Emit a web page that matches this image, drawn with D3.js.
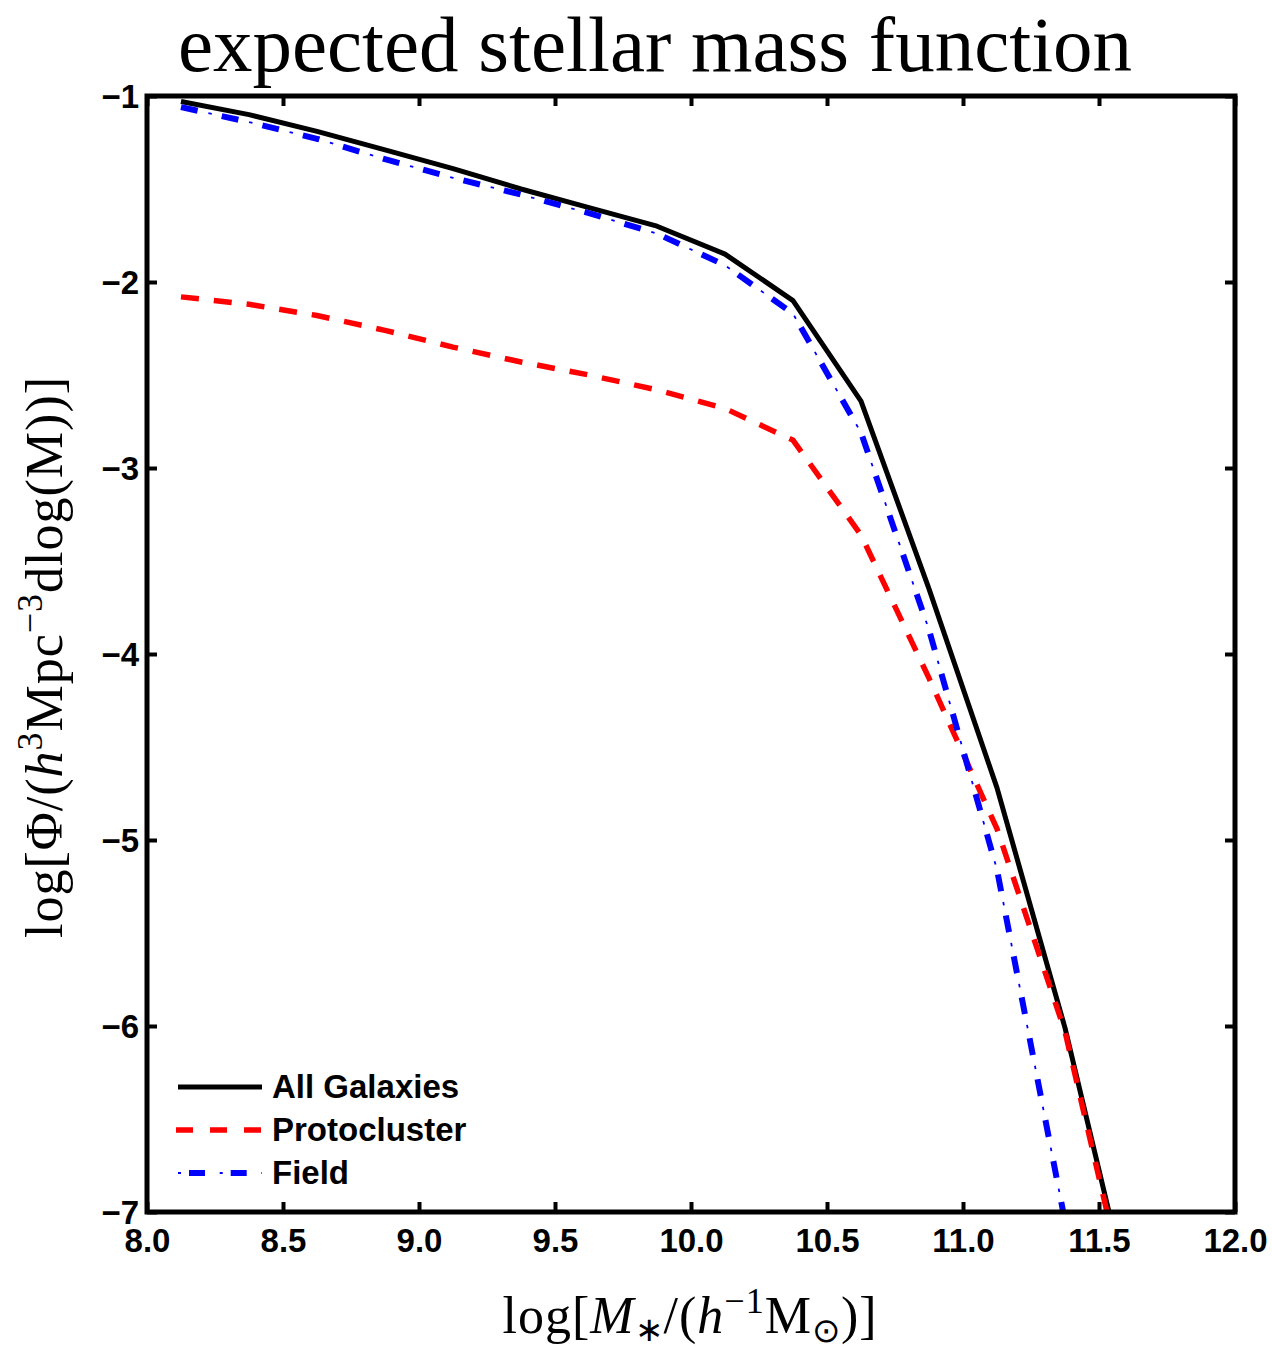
<!DOCTYPE html>
<html>
<head>
<meta charset="utf-8">
<script src="https://cdn.jsdelivr.net/npm/d3@7"></script>
<style>
  body { margin: 0; background: #fff; }
  svg { display: block; }
</style>
</head>
<body>
<svg width="1272" height="1350"></svg>
<script>
// log stellar mass bin centres
var massBins = [8.125, 8.375, 8.625, 8.875, 9.125, 9.375, 9.625, 9.875,
                10.125, 10.375, 10.625, 10.875, 11.125, 11.375, 11.625];
// log Phi for each population
var allGalaxies  = [-1.03, -1.10, -1.19, -1.29, -1.39, -1.50, -1.60, -1.70,
                    -1.85, -2.10, -2.64, -3.65, -4.72, -6.01, -7.54];
var protocluster = [-2.08, -2.12, -2.18, -2.26, -2.35, -2.43, -2.50, -2.58,
                    -2.68, -2.85, -3.36, -4.13, -4.94, -6.03, -7.60];
var field        = [-1.06, -1.14, -1.23, -1.34, -1.44, -1.53, -1.63, -1.74,
                    -1.91, -2.17, -2.81, -3.87, -5.16, -7.05, null];

var xTicks = [8.0, 8.5, 9.0, 9.5, 10.0, 10.5, 11.0, 11.5, 12.0];
var yTicks = [-1, -2, -3, -4, -5, -6, -7];
var seriesNames = ["All Galaxies", "Protocluster", "Field"];

var svg = d3.select("svg"),
    margin = {left: 147, right: 37, top: 96, bottom: 138},
    width = +svg.attr("width") - margin.left - margin.right,
    height = +svg.attr("height") - margin.top - margin.bottom;

var x = d3.scaleLinear().domain([8, 12]).range([0, width]);
var y = d3.scaleLinear().domain([-7, -1]).range([height, 0]);

var g = svg.append("g").attr("transform", "translate(" + margin.left + "," + margin.top + ")");

svg.append("defs").append("clipPath").attr("id", "plotclip")
  .append("rect").attr("width", width).attr("height", height);

var tickFont = "'Liberation Sans', Arial, Helvetica, sans-serif";
var serif = "'Liberation Serif', 'Times New Roman', serif";

// axes: bottom and left carry labels, top/right just ticks (inward)
var xAxis = g.append("g").attr("transform", "translate(0," + height + ")")
  .call(d3.axisBottom(x).tickValues(xTicks).tickFormat(d3.format(".1f")).tickSize(-10).tickPadding(17));
var yAxis = g.append("g")
  .call(d3.axisLeft(y).tickValues(yTicks).tickFormat(d3.format("d")).tickSize(-10).tickPadding(8));
g.append("g").call(d3.axisTop(x).tickValues(xTicks).tickFormat("").tickSize(-10));
g.append("g").attr("transform", "translate(" + width + ",0)")
  .call(d3.axisRight(y).tickValues(yTicks).tickFormat("").tickSize(-10));

g.selectAll(".domain").remove();
g.selectAll(".tick line").attr("stroke", "#000").attr("stroke-width", 4);
g.selectAll(".tick text")
  .attr("fill", "#000")
  .style("font-family", tickFont)
  .style("font-weight", "bold")
  .style("font-size", "33px");
xAxis.selectAll(".tick text").attr("dy", "0.71em");
yAxis.selectAll(".tick text").attr("dy", "0.36em");

var plot = g.append("g").attr("clip-path", "url(#plotclip)");

function lineFor(vals) {
  return d3.line()
    .defined(function(d, i) { return vals[i] != null; })
    .x(function(d) { return x(d); })
    .y(function(d, i) { return y(vals[i]); })(massBins);
}

plot.append("path").attr("d", lineFor(allGalaxies))
  .attr("fill", "none").attr("stroke", "#000").attr("stroke-width", 5)
  .attr("stroke-linejoin", "round");
plot.append("path").attr("d", lineFor(protocluster))
  .attr("fill", "none").attr("stroke", "#ff0000").attr("stroke-width", 5.5)
  .attr("stroke-dasharray", "18,15");
// dash-dot: thick dashes plus thin dots
plot.append("path").attr("d", lineFor(field))
  .attr("fill", "none").attr("stroke", "#0000ff").attr("stroke-width", 6)
  .attr("stroke-dasharray", "17,24.7");
plot.append("path").attr("d", lineFor(field))
  .attr("fill", "none").attr("stroke", "#0000ff").attr("stroke-width", 1.8)
  .attr("stroke-dasharray", "0,28,3.5,10.2");

// frame
g.append("rect").attr("width", width).attr("height", height)
  .attr("fill", "none").attr("stroke", "#000").attr("stroke-width", 5);

// legend
var legend = g.append("g").attr("transform", "translate(31,991)");
var legendRows = legend.selectAll("g").data(seriesNames).enter().append("g")
  .attr("transform", function(d, i) { return "translate(0," + (i * 43) + ")"; });
legendRows.each(function(d, i) {
  var row = d3.select(this);
  if (i === 0) {
    row.append("line").attr("x1", 0).attr("x2", 84).attr("stroke", "#000").attr("stroke-width", 5);
  } else if (i === 1) {
    row.append("line").attr("x1", -2).attr("x2", 84).attr("stroke", "#ff0000").attr("stroke-width", 5.5)
      .attr("stroke-dasharray", "17,17");
  } else {
    row.append("line").attr("x1", 11).attr("x2", 84).attr("stroke", "#0000ff").attr("stroke-width", 6)
      .attr("stroke-dasharray", "16,25.7");
    row.append("line").attr("x1", 0).attr("x2", 84).attr("stroke", "#0000ff").attr("stroke-width", 1.8)
      .attr("stroke-dasharray", "0,0,3,38.7");
  }
  row.append("text").attr("x", 94).attr("y", 11).text(d)
    .style("font-family", tickFont).style("font-weight", "bold").style("font-size", "33px");
});

// title
svg.append("text").attr("x", 655).attr("y", 71).attr("text-anchor", "middle")
  .style("font-family", serif)
  .style("font-size", "79px")
  .text("expected stellar mass function");

// x axis label
var xl = svg.append("text").attr("x", 690).attr("y", 1333).attr("text-anchor", "middle")
  .style("font-family", serif).style("font-size", "52px").style("letter-spacing", "1px");
xl.append("tspan").text("log[");
xl.append("tspan").style("font-style", "italic").text("M");
xl.append("tspan").attr("dy", 8).style("font-size", "34px").text("∗");
xl.append("tspan").attr("dy", -8).text("/(");
xl.append("tspan").style("font-style", "italic").text("h");
xl.append("tspan").attr("dy", -20).style("font-size", "36px").text("−1");
xl.append("tspan").attr("dy", 20).text("M");
xl.append("tspan").attr("dy", 9).style("font-size", "34px").text("⊙");
xl.append("tspan").attr("dy", -9).text(")]");

// y axis label
var yl = svg.append("text").attr("transform", "translate(62,657) rotate(-90)").attr("text-anchor", "middle")
  .style("font-family", serif).style("font-size", "52px").style("letter-spacing", "1px");
yl.append("tspan").text("log[Φ/(");
yl.append("tspan").style("font-style", "italic").text("h");
yl.append("tspan").attr("dy", -20).style("font-size", "36px").text("3");
yl.append("tspan").attr("dy", 20).text("Mpc");
yl.append("tspan").attr("dy", -20).style("font-size", "36px").text("−3");
yl.append("tspan").attr("dy", 20).text("dlog(M))]");
</script>
</body>
</html>
